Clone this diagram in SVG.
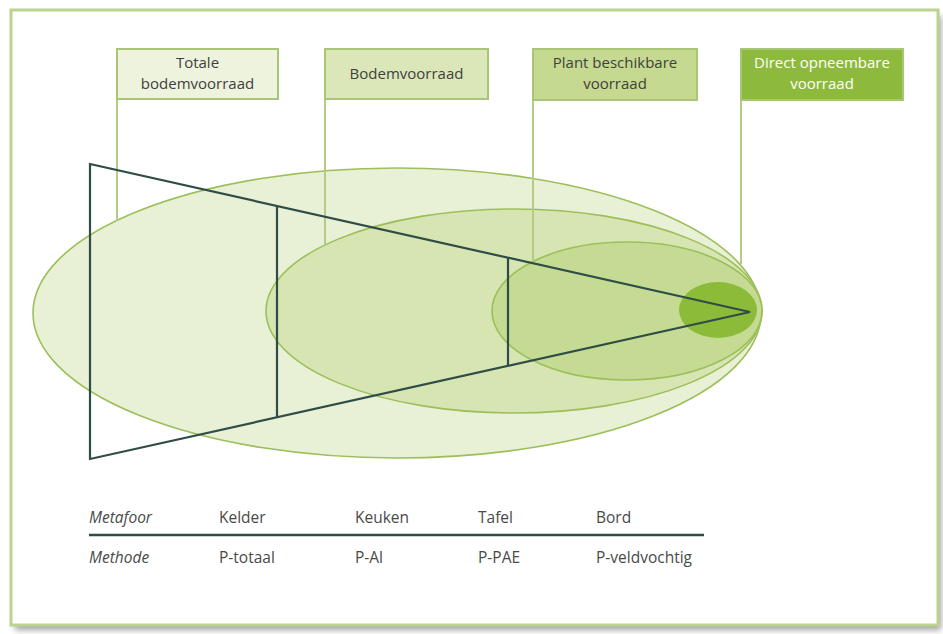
<svg xmlns="http://www.w3.org/2000/svg" width="943" height="634" viewBox="0 0 943 634">
<defs>
<filter id="sh" x="-5%" y="-5%" width="110%" height="110%"><feGaussianBlur stdDeviation="3"/></filter>
<style>
.lbl{font-family:"Open Sans","Liberation Sans",sans-serif;font-size:15px;fill:#3f3f3d;text-anchor:middle}
.wht{fill:#ffffff}
.tbl{font-family:"Open Sans","Liberation Sans",sans-serif;font-size:15.5px;fill:#4a4a48}
.it{font-style:italic}
.box{stroke:#a9c677;stroke-width:2}
.ell{stroke:#9cbf5a;stroke-width:1.6}
.lead{stroke:#b3cc84;stroke-width:2;fill:none}
.tri{stroke:#2f4d46;stroke-width:2.2;fill:none;stroke-linejoin:miter}
</style>
</defs>
<rect x="0" y="0" width="943" height="634" fill="#ffffff"/>
<rect x="15" y="16" width="926" height="614" fill="#6e6e6e" opacity="0.65" filter="url(#sh)"/>
<rect id="frame" x="11" y="10" width="927" height="615" fill="#ffffff" stroke="#bcd28f" stroke-width="3"/>

<g id="ellipses">
<ellipse id="e-totaal" class="ell" cx="397" cy="313" rx="364" ry="145" fill="#e8f0d5"/>
<ellipse id="e-bodem" class="ell" cx="514" cy="311" rx="248" ry="102" fill="#d6e5b2"/>
<ellipse id="e-plant" class="ell" cx="627" cy="311" rx="135" ry="69" fill="#c5db93"/>
<ellipse id="e-direct" cx="718" cy="310" rx="39" ry="28" fill="#8cbb3a"/>
</g>

<g id="connectors">
<line class="lead" x1="117" y1="99" x2="117" y2="221"/>
<line class="lead" x1="325" y1="99" x2="325" y2="245"/>
<line class="lead" x1="533" y1="100" x2="533" y2="260"/>
<line class="lead" x1="741" y1="100" x2="741" y2="264"/>
</g>

<g id="triangle">
<polygon class="tri" points="90,164 750,312 90,459"/>
<line class="tri" x1="277" y1="206" x2="277" y2="417"/>
<line class="tri" x1="508" y1="258" x2="508" y2="365"/>
</g>

<g id="n-totaal">
<rect class="box" x="117" y="49" width="161" height="50" fill="#eef3dd"/>
<text class="lbl" x="197.5" y="68">Totale</text>
<text class="lbl" x="197.5" y="88.5">bodemvoorraad</text>
</g>
<g id="n-bodem">
<rect class="box" x="325" y="49" width="163" height="50" fill="#dbe7b9"/>
<text class="lbl" x="406.5" y="79">Bodemvoorraad</text>
</g>
<g id="n-plant">
<rect class="box" x="533" y="49" width="164" height="51" fill="#c5da90"/>
<text class="lbl" x="615" y="68">Plant beschikbare</text>
<text class="lbl" x="615" y="88.5">voorraad</text>
</g>
<g id="n-direct">
<rect class="box" x="741" y="49" width="162" height="51" fill="#8dba3c" stroke="#8dba3c"/>
<text class="lbl wht" x="822" y="68">Direct opneembare</text>
<text class="lbl wht" x="822" y="88.5">voorraad</text>
</g>

<g id="table">
<text class="tbl it" x="89" y="523">Metafoor</text>
<text class="tbl" x="219" y="523">Kelder</text>
<text class="tbl" x="355" y="523">Keuken</text>
<text class="tbl" x="478" y="523">Tafel</text>
<text class="tbl" x="596" y="523">Bord</text>
<line x1="89" y1="535" x2="704" y2="535" stroke="#2f4d46" stroke-width="2.5"/>
<text class="tbl it" x="89" y="563">Methode</text>
<text class="tbl" x="219" y="563">P-totaal</text>
<text class="tbl" x="355" y="563">P-Al</text>
<text class="tbl" x="478" y="563">P-PAE</text>
<text class="tbl" x="596" y="563">P-veldvochtig</text>
</g>
</svg>
